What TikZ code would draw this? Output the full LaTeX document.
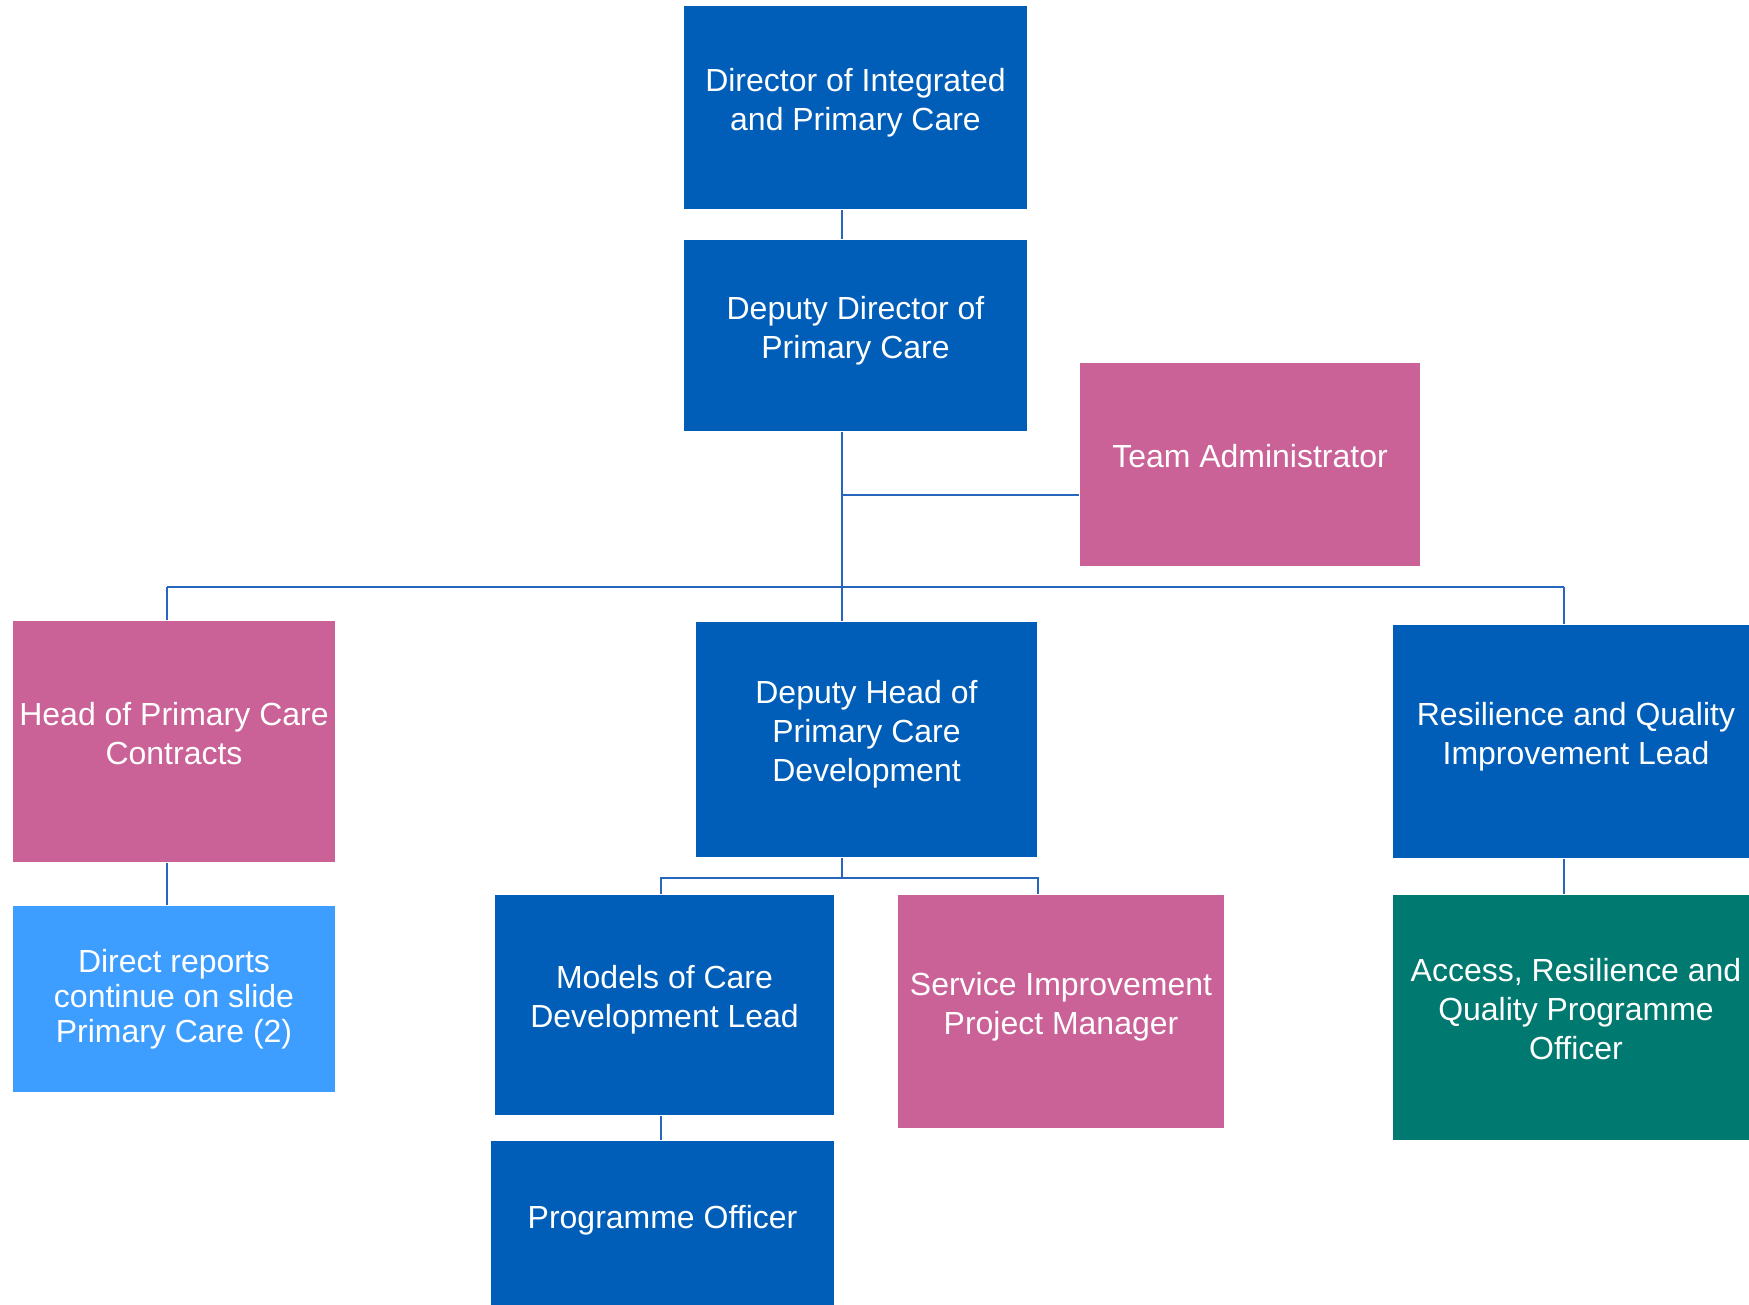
\documentclass[tikz,border=0pt]{standalone}
\usepackage{fontspec}
\setmainfont{Liberation Sans}
\usepackage{tikz}
\usepackage{xcolor}
\definecolor{nhsblue}{RGB}{0,94,184}
\definecolor{rolepink}{RGB}{202,98,152}
\definecolor{skyblue}{RGB}{62,158,255}
\definecolor{rolegreen}{RGB}{0,122,112}
\definecolor{linkblue}{RGB}{40,102,190}
\tikzset{
	post/.style={rectangle,inner sep=0pt,text=white,align=center,text depth=0.17cm,font=\fontsize{9.1}{11.1}\selectfont},
	link/.style={draw=linkblue,line width=0.6pt}
}

\begin{document}
\begin{tikzpicture}
\useasboundingbox (0,0) rectangle (17.49,-13.05);
\clip (0,0) rectangle (17.49,-13.05);
\begin{scope}[every node/.style=post]
\node[fill=nhsblue,minimum width=3.43cm,minimum height=2.03cm] (dir) at (8.555,-1.075) {Director of Integrated\\and Primary Care};
\node[fill=nhsblue,minimum width=3.43cm,minimum height=1.91cm] (ddir) at (8.555,-3.355) {Deputy Director of\\Primary Care};
\node[fill=rolepink,minimum width=3.40cm,minimum height=2.03cm] (admin) at (12.50,-4.645) {Team Administrator};
\node[fill=rolepink,minimum width=3.22cm,minimum height=2.41cm] (hpcc) at (1.74,-7.415) {Head of Primary Care\\Contracts};
\node[fill=skyblue,minimum width=3.22cm,minimum height=1.86cm,text depth=,font=\fontsize{9.1}{9.96}\selectfont] (direct) at (1.74,-9.99) {Direct reports\\continue on slide\\Primary Care (2)};
\node[fill=nhsblue,minimum width=3.41cm,minimum height=2.35cm] (dhead) at (8.665,-7.395) {Deputy Head of\\Primary Care\\Development};
\node[fill=nhsblue,minimum width=3.66cm,minimum height=2.33cm] (resil) at (15.76,-7.415) {Resilience and Quality\\Improvement Lead};
\node[fill=rolegreen,minimum width=3.66cm,minimum height=2.45cm] (access) at (15.76,-10.175) {Access, Resilience and\\Quality Programme\\Officer};
\node[fill=nhsblue,minimum width=3.39cm,minimum height=2.20cm] (models) at (6.645,-10.05) {Models of Care\\Development Lead};
\node[fill=rolepink,minimum width=3.26cm,minimum height=2.33cm] (service) at (10.61,-10.115) {Service Improvement\\Project Manager};
\node[fill=nhsblue,minimum width=3.43cm,minimum height=1.68cm] (progoff) at (6.625,-12.25) {Programme Officer};
\end{scope}
%
\coordinate (trunk) at (8.42,-5.87);
\coordinate (left) at (1.67,-5.87);
\coordinate (right) at (15.64,-5.87);
\coordinate (adm) at (8.42,-4.95);
\coordinate (subl) at (6.61,-8.78);
\coordinate (subr) at (10.38,-8.78);
%
\draw[link] (dir.south -| trunk) to (ddir.north -| trunk);
\draw[link] (ddir.south -| trunk) to (dhead.north -| trunk);
\draw[link] (adm) to (adm -| admin.west);
\draw[link] (left) to (right);
\draw[link] (left) to (hpcc.north -| left);
\draw[link] (hpcc.south -| left) to (direct.north -| left);
\draw[link] (right) to (resil.north -| right);
\draw[link] (resil.south -| right) to (access.north -| right);
\draw[link] (dhead.south -| trunk) to (trunk |- subl);
\draw[link] (models.north -| subl) to (subl) to (subr) to (service.north -| subr);
\draw[link] (models.south -| subl) to (progoff.north -| subl);
\end{tikzpicture}
\end{document}
